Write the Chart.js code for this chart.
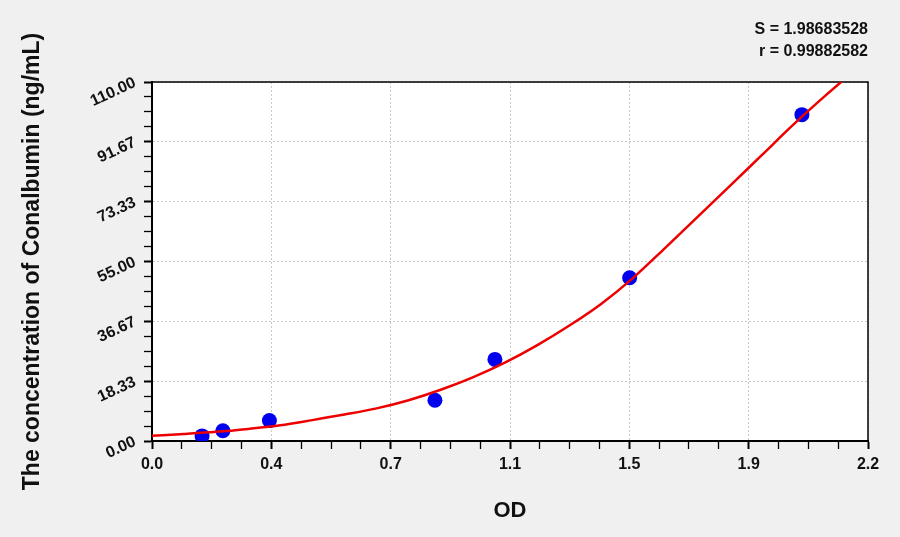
<!DOCTYPE html>
<html>
<head>
<meta charset="utf-8">
<script src="https://cdn.jsdelivr.net/npm/chart.js@4.4.1/dist/chart.umd.min.js"></script>
<style>
  html, body { margin: 0; padding: 0; background: #f0f0f0; }
  #wrap { width: 900px; height: 537px; }
</style>
</head>
<body>
<div id="wrap"><canvas id="std-curve" width="900" height="537"></canvas></div>
<script>
// standards
const odValues = [0.156, 0.221, 0.366, 0.882, 1.069, 1.489, 2.026];
const concValues = [1.56, 3.12, 6.25, 12.5, 25, 50, 100];

// fitted curve, every 0.1 OD
const curveOd = [0, 0.1, 0.2, 0.3, 0.4, 0.5, 0.6, 0.7, 0.8, 0.9, 1.0, 1.1, 1.2, 1.3, 1.4, 1.5, 1.6, 1.7, 1.8, 1.9, 2.0, 2.1, 2.2];
const curveConc = [1.6, 2.15, 2.8, 3.7, 4.8, 6.4, 8.1, 10.0, 12.5, 15.7, 19.5, 24.0, 29.3, 35.3, 42.0, 50.0, 59.2, 68.6, 78.0, 87.5, 97.0, 105.9, 114.3];

const xTickLabels = ['0.0', '0.4', '0.7', '1.1', '1.5', '1.9', '2.2'];
const yTickLabels = ['0.00', '18.33', '36.67', '55.00', '73.33', '91.67', '110.00'];
const statLines = ['S = 1.98683528', 'r = 0.99882582'];

const xMax = 2.232;
const yMax = 110;
const minorPerMajor = 4;

const toPoints = (xs, ys) => xs.map((x, i) => ({ x: x, y: ys[i] }));

// white plot area and black frame round it
const plotFrame = {
    id: 'plotFrame',
    beforeDraw(chart) {
        const a = chart.chartArea;
        const ctx = chart.ctx;
        ctx.save();
        ctx.fillStyle = '#ffffff';
        ctx.fillRect(a.left, a.top, a.right - a.left, a.bottom - a.top);
        ctx.restore();
    },
    beforeDatasetsDraw(chart) {
        const a = chart.chartArea;
        const ctx = chart.ctx;
        ctx.save();
        ctx.strokeStyle = '#000';
        ctx.lineWidth = 1.5;
        ctx.strokeRect(a.left, a.top, a.right - a.left, a.bottom - a.top);
        ctx.restore();
    }
};

const gridColor = (c) => (c.index % minorPerMajor === 0 ? '#c8c8c8' : 'rgba(0,0,0,0)');
const tickWidth = (c) => (c.index % minorPerMajor === 0 ? 2 : 1.3);
const font = (size) => ({ family: 'Liberation Sans, Arial, sans-serif', size: size, weight: 'bold' });

const config = {
    type: 'scatter',
    data: {
        datasets: [{
            label: 'Fit',
            data: toPoints(curveOd, curveConc),
            showLine: true,
            borderColor: '#ee0000',
            borderWidth: 2.5,
            pointRadius: 0,
            cubicInterpolationMode: 'monotone',
        }, {
            label: 'Standards',
            data: toPoints(odValues, concValues),
            showLine: false,
            pointRadius: 7.5,
            pointBackgroundColor: '#0000ee',
            pointBorderColor: '#0000ee',
            pointBorderWidth: 0,
        }],
    },
    options: {
        responsive: false,
        animation: false,
        devicePixelRatio: 1,
        layout: { padding: { left: 0, right: 32, top: 0, bottom: 0 } },
        plugins: {
            legend: { display: false },
            tooltip: { enabled: false },
            title: {
                display: true,
                text: statLines,
                align: 'end',
                color: '#111',
                font: { ...font(16), lineHeight: 22 / 16 },
                padding: { top: 19, bottom: 19 },
            },
        },
        scales: {
            x: {
                type: 'linear',
                min: 0,
                max: xMax,
                afterFit: (scale) => { scale.height = 96; },
                ticks: {
                    stepSize: xMax / 24,
                    autoSkip: false,
                    maxRotation: 0,
                    padding: 6,
                    color: '#111',
                    font: font(16),
                    callback: (v, i) => (i % minorPerMajor === 0 ? xTickLabels[i / minorPerMajor] : ''),
                },
                grid: { color: gridColor, tickColor: '#000', tickWidth: tickWidth, tickLength: 8 },
                border: { color: '#000', width: 2, dash: [2, 2] },
                title: {
                    display: true,
                    text: 'OD',
                    color: '#111',
                    font: font(22),
                    padding: { top: 0, bottom: 13 },
                },
            },
            y: {
                type: 'linear',
                min: 0,
                max: yMax,
                afterFit: (scale) => { scale.width = 152; },
                ticks: {
                    stepSize: yMax / 24,
                    autoSkip: false,
                    minRotation: 25,
                    maxRotation: 25,
                    padding: 9,
                    color: '#111',
                    font: font(16),
                    callback: (v, i) => (i % minorPerMajor === 0 ? yTickLabels[i / minorPerMajor] : ''),
                },
                grid: { color: gridColor, tickColor: '#000', tickWidth: tickWidth, tickLength: 8 },
                border: { color: '#000', width: 2, dash: [2, 2] },
                title: {
                    display: true,
                    text: 'The concentration of Conalbumin (ng/mL)',
                    color: '#111',
                    font: font(23),
                    padding: { top: 19, bottom: 0 },
                },
            },
        },
    },
    plugins: [plotFrame],
};

new Chart(document.getElementById('std-curve'), config);
</script>
</body>
</html>
